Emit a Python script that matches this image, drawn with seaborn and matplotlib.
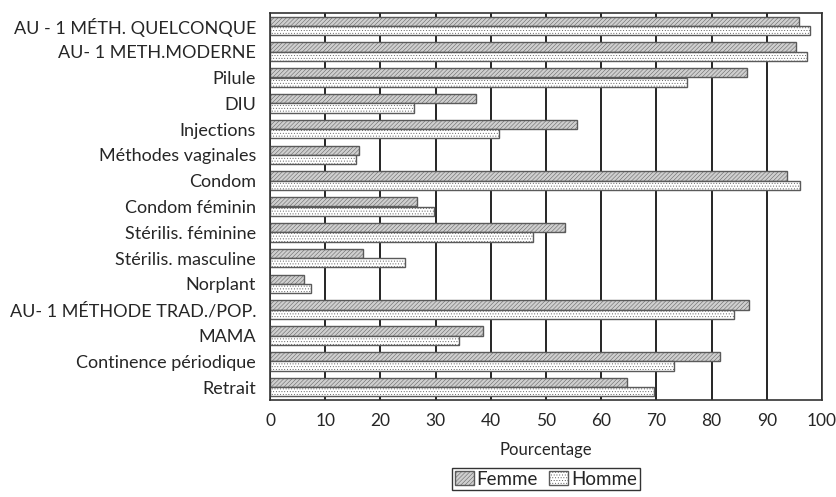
import numpy as np
import pandas as pd
import seaborn as sns
import matplotlib.pyplot as plt
import matplotlib.patches as mpatches

# Categories and values
methodes = ['AU - 1 MÉTH. QUELCONQUE', 'AU- 1 METH.MODERNE', 'Pilule', 'DIU',
            'Injections', 'Méthodes vaginales', 'Condom', 'Condom féminin',
            'Stérilis. féminine', 'Stérilis. masculine', 'Norplant',
            'AU- 1 MÉTHODE TRAD./POP.', 'MAMA', 'Continence périodique', 'Retrait']
femme = [95.8, 95.2, 86.5, 37.4, 55.7, 16.2, 93.7, 26.7, 53.5, 16.9, 6.2, 86.8, 38.5, 81.6, 64.7]
homme = [97.8, 97.2, 75.6, 26.0, 41.5, 15.5, 96.0, 29.8, 47.6, 24.5, 7.5, 84.1, 34.3, 73.2, 69.6]
xticks = [0, 10, 20, 30, 40, 50, 60, 70, 80, 90, 100]

df = pd.DataFrame({'Methode': methodes * 2,
                   'Pourcentage': femme + homme,
                   'Sexe': ['Femme'] * len(methodes) + ['Homme'] * len(methodes)})

sns.set_style('white')
plt.rcParams['font.family'] = ['Lato', 'DejaVu Sans']
plt.rcParams['hatch.linewidth'] = 0.35

fig = plt.figure(figsize=(8.36, 4.97), dpi=100)
ax = fig.add_axes([270 / 836, 1 - 400 / 497, 552 / 836, 387 / 497])

colors = {'Femme': '#cfcfcf', 'Homme': 'white'}
hatches = {'Femme': '////////', 'Homme': '......'}
edges = {'Femme': '#5a5a5a', 'Homme': '#5a5a5a'}

sns.barplot(data=df, x='Pourcentage', y='Methode', hue='Sexe', orient='h',
            width=0.72, palette=colors, edgecolor='#444444', linewidth=1.0,
            legend=False, ax=ax)

# hatch patterns: grey diagonal for Femme, dotted for Homme
for cont, sexe in zip(ax.containers, ['Femme', 'Homme']):
    for bar in cont:
        bar.set_hatch(hatches[sexe])
        bar.set_edgecolor(edges[sexe])

ax.set_xlim(0, 100)
ax.set_ylim(len(methodes) - 0.5, -0.5)
ax.set_xticks(xticks)
ax.set_axisbelow(True)
ax.grid(axis='x', color='black', linewidth=1.2)
ax.grid(axis='y', visible=False)
for s in ax.spines.values():
    s.set_color('#333333')
    s.set_linewidth(1.2)

ax.tick_params(axis='x', length=0, labelsize=12.5, pad=9)
ax.tick_params(axis='y', length=0, labelsize=13, pad=10)
ax.set_ylabel('')
ax.set_xlabel('Pourcentage', fontsize=12, labelpad=10)

handles = [mpatches.Patch(facecolor=colors[s], edgecolor=edges[s],
                          hatch=hatches[s], label=s) for s in ['Femme', 'Homme']]
leg = ax.legend(handles=handles, loc='upper center', bbox_to_anchor=(0.5, -0.175),
                ncol=2, frameon=True, fancybox=False, edgecolor='black',
                fontsize=13.5, handlelength=1.0, handleheight=0.75,
                handletextpad=0.15, columnspacing=0.6, borderpad=0.15,
                borderaxespad=0)
leg.get_frame().set_linewidth(1.0)

plt.savefig('out.png', dpi=100)
